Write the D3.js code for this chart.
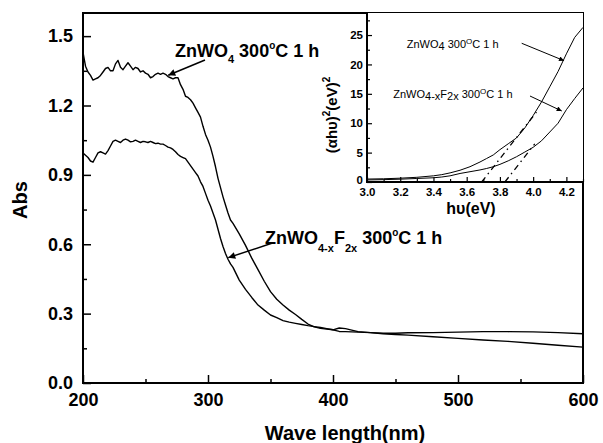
<!DOCTYPE html>
<html>
<head>
<meta charset="utf-8">
<script src="https://cdn.jsdelivr.net/npm/d3@7"></script>
<style>
  body { margin: 0; background: #fff; }
  svg { display: block; }
  text { font-family: "Liberation Sans", Arial, sans-serif; fill: #000; }
</style>
</head>
<body>
<svg id="chart" width="603" height="443"></svg>
<script>
// UV-Vis absorbance spectra (nm vs Abs)
const wavelength = [
  200,202,204,206,208,210,212,214,216,218,220,222,224,226,228,230,232,234,236,238,
  240,242,244,246,248,250,252,254,256,258,260,262,264,266,268,270,272,274,276,278,
  280,282,284,286,288,290,292,294,296,298,300,302,304,306,308,310,312,314,316,318,
  320,325,330,335,340,345,350,355,360,365,370,375,380,385,390,395,400,405,410,420,
  430,440,450,460,480,500,520,540,560,580,600
];
const absZnWO4 = [
  1.43,1.37,1.345,1.33,1.31,1.315,1.32,1.33,1.345,1.36,1.365,1.35,1.35,1.38,1.395,1.365,1.355,1.37,1.385,1.37,
  1.355,1.365,1.36,1.345,1.35,1.34,1.335,1.32,1.325,1.335,1.34,1.335,1.34,1.335,1.325,1.32,1.315,1.32,1.32,1.29,
  1.27,1.24,1.235,1.225,1.21,1.19,1.17,1.15,1.11,1.075,1.05,1.02,0.98,0.935,0.885,0.845,0.805,0.77,0.735,0.705,
  0.69,0.645,0.595,0.54,0.49,0.44,0.395,0.362,0.337,0.315,0.296,0.275,0.255,0.243,0.236,0.233,0.23,0.223,0.222,0.22,
  0.218,0.213,0.21,0.207,0.2,0.193,0.186,0.18,0.172,0.163,0.155
];
const absZnWO4F = [
  0.995,0.985,0.975,0.96,0.955,0.975,0.995,1.0,0.995,0.99,1.005,1.025,1.045,1.05,1.045,1.04,1.05,1.055,1.05,1.043,
  1.045,1.05,1.045,1.04,1.045,1.043,1.04,1.045,1.04,1.035,1.037,1.033,1.033,1.027,1.02,1.017,1.01,1.0,0.988,0.98,
  0.975,0.97,0.955,0.94,0.925,0.91,0.895,0.87,0.85,0.82,0.79,0.765,0.735,0.705,0.665,0.625,0.59,0.56,0.535,0.515,
  0.5,0.445,0.405,0.37,0.337,0.315,0.294,0.283,0.27,0.263,0.258,0.253,0.248,0.244,0.24,0.235,0.23,0.238,0.235,0.222,
  0.218,0.215,0.215,0.217,0.218,0.22,0.222,0.222,0.221,0.218,0.213
];
const xTicks = [200, 300, 400, 500, 600];
const xMinorTicks = [250, 350, 450, 550];
const yTicks = [0, 0.3, 0.6, 0.9, 1.2, 1.5];
const yMinorTicks = [0.15, 0.45, 0.75, 1.05, 1.35];

// Tauc plot, (αhυ)² vs hυ
const energy = [3.0,3.1,3.2,3.3,3.4,3.45,3.5,3.56,3.62,3.68,3.72,3.76,3.8,3.85,3.9,3.95,4.0,4.05,4.1,4.15,4.2,4.25,4.3];
const taucZnWO4 = [0.5,0.55,0.65,0.8,1.05,1.25,1.55,2.0,2.6,3.4,4.0,4.6,5.5,6.5,7.5,9.2,11.3,13.6,16.2,18.8,21.8,24.6,26.3];
const taucZnWO4F = [0.35,0.4,0.48,0.6,0.72,0.85,1.05,1.45,1.75,2.05,2.3,2.6,3.0,3.6,4.3,5.1,5.9,7.0,8.5,10.0,12.3,14.2,16.0];
const tangentZnWO4 = [[3.69, 0], [4.02, 11.9]];
const tangentZnWO4F = [[3.83, 0], [4.01, 6.5]];
const insetXTicks = [3.0, 3.2, 3.4, 3.6, 3.8, 4.0, 4.2];
const insetXMinorTicks = [3.1, 3.3, 3.5, 3.7, 3.9, 4.1, 4.3];
const insetYTicks = [0, 5, 10, 15, 20, 25];
const insetYMinorTicks = [2.5, 7.5, 12.5, 17.5, 22.5, 27.5];

const svg = d3.select("#chart");
const FONT = '"Liberation Sans", Arial, sans-serif';

// main scales
const x = d3.scaleLinear().domain([200, 600]).range([83, 583]);
const y = d3.scaleLinear().domain([0, 1.6]).range([383, 13]);

// inset scales (shares the top-right corner of the frame)
const ix = d3.scaleLinear().domain([3.0, 4.3]).range([367, 583]);
const iy = d3.scaleLinear().domain([0, 28.75]).range([182, 13]);

const defs = svg.append("defs");
function marker(id, w, h) {
  defs.append("marker")
    .attr("id", id)
    .attr("viewBox", "0 0 10 10")
    .attr("refX", 10).attr("refY", 5)
    .attr("markerWidth", w).attr("markerHeight", h)
    .attr("markerUnits", "userSpaceOnUse")
    .attr("orient", "auto")
    .append("path").attr("d", "M0,0 L10,5 L0,10 Z").attr("fill", "#000");
}
marker("arrowMain", 10, 7);
marker("arrowInset", 7, 5);
defs.append("clipPath").attr("id", "insetClip")
  .append("rect").attr("x", 367).attr("y", 13).attr("width", 216).attr("height", 169);

function styleAxis(g, size) {
  g.select(".domain").remove();
  g.selectAll(".tick line").attr("stroke", "#000").attr("stroke-width", 1.5);
  g.selectAll("text").attr("font-family", FONT).attr("font-weight", "bold")
    .attr("font-size", size).attr("fill", "#000");
}

// ---- main axes ----
const gx = svg.append("g").attr("transform", "translate(0,383)")
  .call(d3.axisBottom(x).tickValues(xTicks).tickSize(-8).tickPadding(10).tickFormat(d3.format("d")));
styleAxis(gx, 18);
const gxm = svg.append("g").attr("transform", "translate(0,383)")
  .call(d3.axisBottom(x).tickValues(xMinorTicks).tickSize(-4).tickFormat(""));
styleAxis(gxm, 18);

const gy = svg.append("g").attr("transform", "translate(83,0)")
  .call(d3.axisLeft(y).tickValues(yTicks).tickSize(-8).tickPadding(10).tickFormat(d3.format(".1f")));
styleAxis(gy, 18);
const gym = svg.append("g").attr("transform", "translate(83,0)")
  .call(d3.axisLeft(y).tickValues(yMinorTicks).tickSize(-4).tickFormat(""));
styleAxis(gym, 18);

// frame
svg.append("rect")
  .attr("x", x(200)).attr("y", y(1.6))
  .attr("width", x(600) - x(200)).attr("height", y(0) - y(1.6))
  .attr("fill", "none").attr("stroke", "#000").attr("stroke-width", 2);

// axis titles
svg.append("text")
  .attr("x", (x(200) + x(600)) / 2 + 12).attr("y", 440)
  .attr("text-anchor", "middle").attr("font-weight", "bold").attr("font-size", 20)
  .text("Wave length(nm)");
svg.append("text")
  .attr("transform", `translate(27,${(y(0) + y(1.6)) / 2 + 2}) rotate(-90)`)
  .attr("text-anchor", "middle").attr("font-weight", "bold").attr("font-size", 20)
  .text("Abs");

// ---- spectra ----
const line = d3.line().x((d, i) => x(wavelength[i])).y(d => y(d));
svg.append("path").datum(absZnWO4)
  .attr("d", line).attr("fill", "none").attr("stroke", "#000").attr("stroke-width", 1.4)
  .attr("stroke-linejoin", "round");
svg.append("path").datum(absZnWO4F)
  .attr("d", line).attr("fill", "none").attr("stroke", "#000").attr("stroke-width", 1.4)
  .attr("stroke-linejoin", "round");

// annotations
function arrow(x1, y1, x2, y2, id, w) {
  svg.append("line")
    .attr("x1", x1).attr("y1", y1).attr("x2", x2).attr("y2", y2)
    .attr("stroke", "#000").attr("stroke-width", w)
    .attr("marker-end", `url(#${id})`);
}
arrow(x(297.6), y(1.397), x(268.2), y(1.331), "arrowMain", 1.5);
arrow(x(351), y(0.604), x(316.2), y(0.542), "arrowMain", 1.5);

const lab1 = svg.append("text").attr("x", x(273.6)).attr("y", y(1.411))
  .attr("font-weight", "bold").attr("font-size", 18);
lab1.append("tspan").text("ZnWO");
lab1.append("tspan").attr("font-size", 11).attr("dy", 6).text("4");
lab1.append("tspan").attr("dy", -6).text(" 300");
lab1.append("tspan").attr("font-size", 10).attr("dy", -8).text("o");
lab1.append("tspan").attr("dy", 8).text("C 1 h");

const lab2 = svg.append("text").attr("x", x(345.6)).attr("y", y(0.601))
  .attr("font-weight", "bold").attr("font-size", 18);
lab2.append("tspan").text("ZnWO");
lab2.append("tspan").attr("font-size", 11).attr("dy", 8).text("4-x");
lab2.append("tspan").attr("dy", -8).text("F");
lab2.append("tspan").attr("font-size", 11).attr("dy", 8).text("2x");
lab2.append("tspan").attr("dy", -8).text(" 300");
lab2.append("tspan").attr("font-size", 10).attr("dy", -8).text("o");
lab2.append("tspan").attr("dy", 8).text("C 1 h");

// ---- inset ----
const inset = svg.append("g");
inset.append("rect").attr("x", 367).attr("y", 13).attr("width", 216).attr("height", 169).attr("fill", "#fff");

const igx = inset.append("g").attr("transform", `translate(0,${iy(0)})`)
  .call(d3.axisBottom(ix).tickValues(insetXTicks).tickSize(-5).tickPadding(6).tickFormat(d3.format(".1f")));
styleAxis(igx, 11.5);
const igxm = inset.append("g").attr("transform", `translate(0,${iy(0)})`)
  .call(d3.axisBottom(ix).tickValues(insetXMinorTicks).tickSize(-3).tickFormat(""));
styleAxis(igxm, 11.5);
const igy = inset.append("g").attr("transform", `translate(${ix(3.0)},0)`)
  .call(d3.axisLeft(iy).tickValues(insetYTicks).tickSize(-5).tickPadding(4).tickFormat(d3.format("d")));
styleAxis(igy, 11.5);
// lift the zero label clear of the first energy label below it
igy.selectAll(".tick text").filter(d => d === 0).attr("dy", "0.1em");
const igym = inset.append("g").attr("transform", `translate(${ix(3.0)},0)`)
  .call(d3.axisLeft(iy).tickValues(insetYMinorTicks).tickSize(-3).tickFormat(""));
styleAxis(igym, 11.5);
inset.selectAll(".tick line").attr("stroke-width", 1.2);

// inset frame (left and bottom; top and right are the main frame)
inset.append("path")
  .attr("d", `M${ix(3.0)},${iy(28.75)} L${ix(3.0)},${iy(0)} L${ix(4.3)},${iy(0)}`)
  .attr("fill", "none").attr("stroke", "#000").attr("stroke-width", 2);

// inset axis titles
inset.append("text")
  .attr("x", 471).attr("y", 214)
  .attr("text-anchor", "middle").attr("font-weight", "bold").attr("font-size", 16)
  .text("hυ(eV)");
const iyt = inset.append("text")
  .attr("transform", `translate(337,115) rotate(-90)`)
  .attr("text-anchor", "middle").attr("font-weight", "bold").attr("font-size", 15);
iyt.append("tspan").text("(αhυ)");
iyt.append("tspan").attr("font-size", 10).attr("dy", -7).text("2");
iyt.append("tspan").attr("dy", 7).text("(eV)");
iyt.append("tspan").attr("font-size", 10).attr("dy", -7).text("2");

// inset curves
const iline = d3.line().x((d, i) => ix(energy[i])).y(d => iy(d));
const curves = inset.append("g").attr("clip-path", "url(#insetClip)");
curves.append("path").datum(taucZnWO4).attr("d", iline)
  .attr("fill", "none").attr("stroke", "#000").attr("stroke-width", 1);
curves.append("path").datum(taucZnWO4F).attr("d", iline)
  .attr("fill", "none").attr("stroke", "#000").attr("stroke-width", 1);

// band-gap extrapolation lines
const tline = d3.line().x(d => ix(d[0])).y(d => iy(d[1]));
[tangentZnWO4, tangentZnWO4F].forEach(t => {
  curves.append("path").datum(t).attr("d", tline)
    .attr("fill", "none").attr("stroke", "#000").attr("stroke-width", 1.3)
    .attr("stroke-dasharray", "6,4,1.5,4");
});

// inset annotations
function iarrow(x1, y1, x2, y2) {
  inset.append("line")
    .attr("x1", ix(x1)).attr("y1", iy(y1)).attr("x2", ix(x2)).attr("y2", iy(y2))
    .attr("stroke", "#000").attr("stroke-width", 1)
    .attr("marker-end", "url(#arrowInset)");
}
iarrow(3.931, 23.6, 4.186, 20.64);
iarrow(3.981, 14.63, 4.172, 12.08);

const il1 = inset.append("text").attr("x", ix(3.239)).attr("y", iy(22.75)).attr("font-size", 11);
il1.append("tspan").text("ZnWO");
il1.append("tspan").attr("dy", 2).text("4");
il1.append("tspan").attr("dy", -2).text(" 300");
il1.append("tspan").attr("font-size", 8).attr("dy", -4).text("O");
il1.append("tspan").attr("dy", 4).text("C 1 h");

const il2 = inset.append("text").attr("x", ix(3.158)).attr("y", iy(14.24)).attr("font-size", 11);
il2.append("tspan").text("ZnWO");
il2.append("tspan").attr("dy", 2).text("4-x");
il2.append("tspan").attr("dy", -2).text("F");
il2.append("tspan").attr("dy", 2).text("2x");
il2.append("tspan").attr("dy", -2).text(" 300");
il2.append("tspan").attr("font-size", 8).attr("dy", -4).text("O");
il2.append("tspan").attr("dy", 4).text("C 1 h");
</script>
</body>
</html>
